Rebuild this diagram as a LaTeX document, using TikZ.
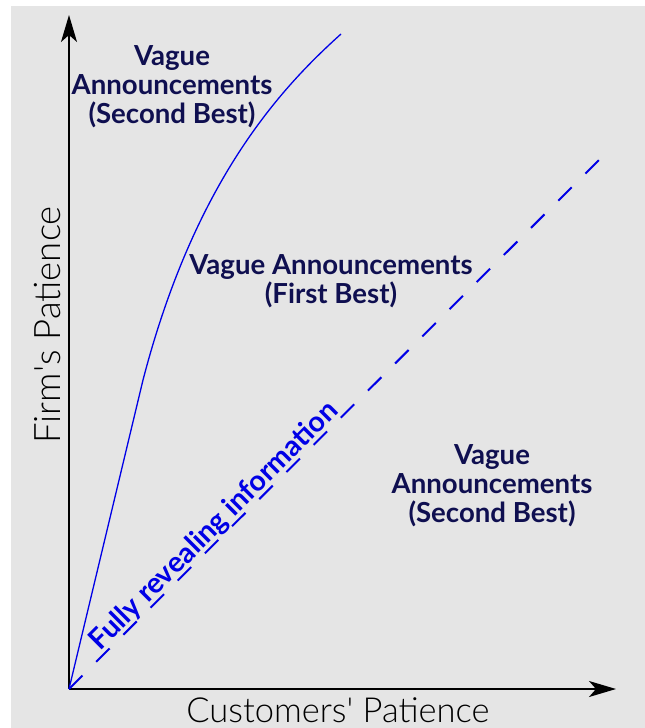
\documentclass[tikz,border=0pt]{standalone}
\usepackage{fontspec}
\setmainfont{Lato}
\newfontfamily\axfont{Lato Light}
\usetikzlibrary{arrows.meta}
\definecolor{bggray}{RGB}{229,229,229}
\definecolor{navylab}{RGB}{15,15,80}
\definecolor{curveblue}{RGB}{0,0,230}
\tikzset{
  axisline/.style={line width=1.6pt, black, -{Stealth[length=27pt,width=16pt,inset=7pt]}},
  regionlabel/.style={font=\fontsize{27.6}{29}\selectfont\bfseries, text=navylab, align=center, inner sep=0pt},
  axislabel/.style={font=\axfont\fontsize{34.5}{36}\selectfont, text=black, inner sep=0pt},
  boundary/.style={line width=1.3pt, curveblue},
  revealline/.style={line width=2pt, curveblue, dash pattern=on 19pt off 19.4pt},
  reveallabel/.style={font=\fontsize{28.5}{30}\selectfont\bfseries, text=curveblue, inner sep=0pt, rotate=45, anchor=base}
}
\begin{document}
\begin{tikzpicture}[x=1pt,y=-1pt]
\useasboundingbox (0,0) rectangle (645,728);
\fill[bggray] (11,6) rectangle (645,728);
\coordinate (O) at (69,689);
\coordinate (Xtip) at (616,689);
\coordinate (Ytip) at (69,15);
\coordinate (Dend) at (599,160);
\coordinate (Bend) at (143,380);
\coordinate (Ctop) at (341,34);
\draw[axisline] (O) -- (Xtip);
\draw[axisline] (O) -- (Ytip);
\draw[revealline] (O) -- (Dend);
\draw[boundary] (O) -- (Bend) .. controls (195,180) and (281,88) .. (Ctop);
\node[axislabel, anchor=base] (xl) at (338,722) {Customers\textquotesingle{} Patience};
\node[axislabel, anchor=base, rotate=90, font=\axfont\fontsize{36.5}{38}\selectfont] (yl) at (60,325) {Firm\textquotesingle{}s Patience};
\node[regionlabel] (tl) at (172,87) {Vague\\Announcements\\(Second Best)};
\node[regionlabel] (fb) at (331,281) {Vague Announcements\\(First Best)};
\node[regionlabel] (br) at (492,486) {Vague\\Announcements\\(Second Best)};
\node[reveallabel] (fr) at (220,532) {Fully revealing information};
\end{tikzpicture}
\end{document}
